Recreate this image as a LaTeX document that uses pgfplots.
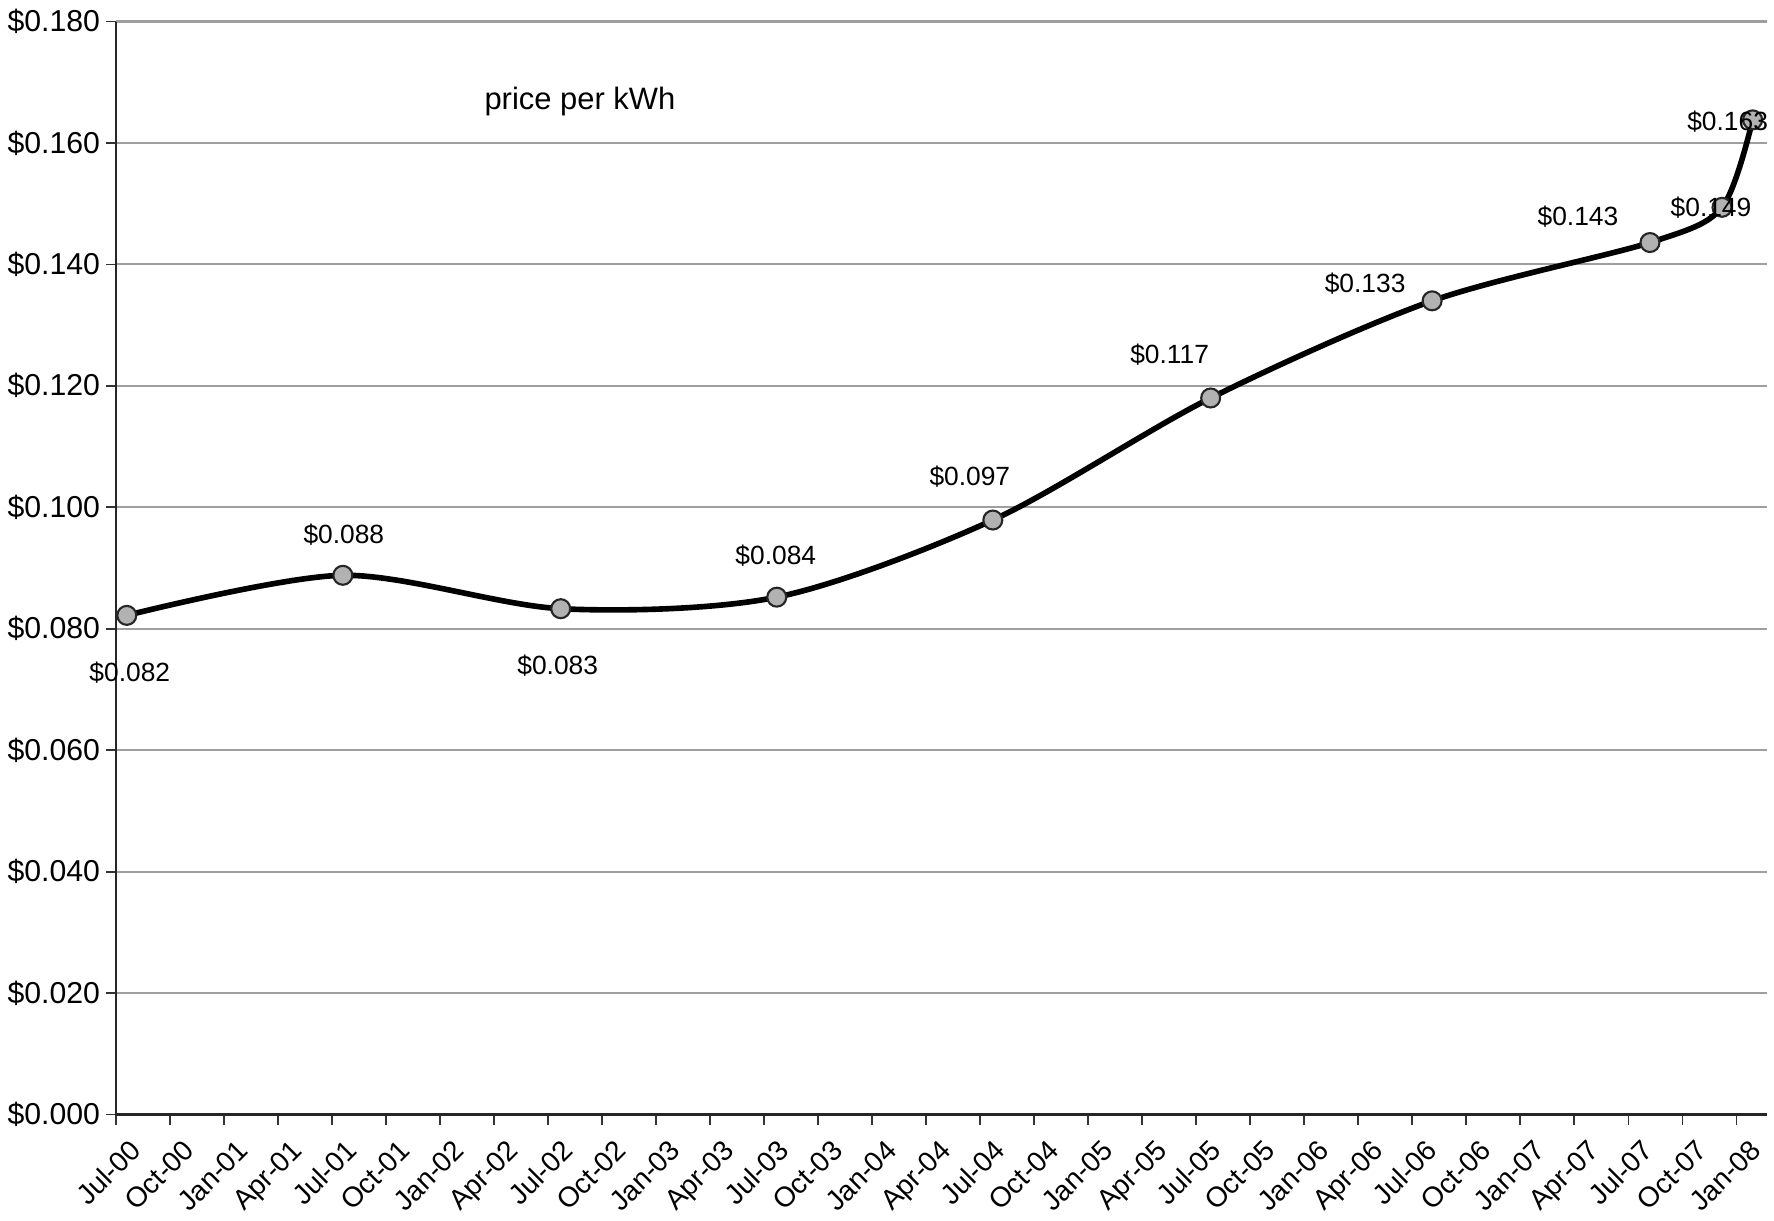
\documentclass[border=0pt]{standalone}
\usepackage{fontspec}
\setmainfont{Liberation Sans}
\usepackage{pgfplots}
\usepackage{pgfplotstable}
\pgfplotsset{compat=1.18}
\pgfplotstableread{
x y lab dx dy
0.6 0.0822 0.082 0.3 -5.7
12.6 0.0888 0.088 0.1 4.1
24.7 0.0833 0.083 -0.3 -5.7
36.7 0.0852 0.084 -0.1 4.2
48.7 0.0979 0.097 -2.3 4.3
60.8 0.1180 0.117 -4.1 4.3
73.1 0.1340 0.133 -6.7 1.7
85.2 0.1436 0.143 -7.2 2.6
89.2 0.1494 0.149 -1.1 0.0
90.9 0.1638 0.163 -2.5 -0.2
}\pricedata
\begin{document}
\begin{tikzpicture}
\begin{axis}[name=ax,
  scale only axis, width=16.51cm, height=10.93cm,
  xmin=0, xmax=91.7, ymin=0, ymax=0.18,
  axis x line*=bottom, axis y line*=left,
  axis line style={-, black!85, line width=0.6pt},
  xtick={0,3,...,90},
  xticklabels={Jul-00,Oct-00,Jan-01,Apr-01,Jul-01,Oct-01,Jan-02,Apr-02,Jul-02,Oct-02,Jan-03,Apr-03,Jul-03,Oct-03,Jan-04,Apr-04,Jul-04,Oct-04,Jan-05,Apr-05,Jul-05,Oct-05,Jan-06,Apr-06,Jul-06,Oct-06,Jan-07,Apr-07,Jul-07,Oct-07,Jan-08},
  ytick={0,0.02,0.04,0.06,0.08,0.1,0.12,0.14,0.16,0.18},
  yticklabels={\$0.000,\$0.020,\$0.040,\$0.060,\$0.080,\$0.100,\$0.120,\$0.140,\$0.160,\$0.180},
  ymajorgrids, grid style={gray!75, line width=0.6pt},
  tick align=outside, major tick length=1mm, tick style={black!80, line width=0.5pt},
  xticklabel style={rotate=45, anchor=north east, font=\fontsize{8}{9}\selectfont, inner sep=1pt, yshift=-1.4mm, xshift=0.3mm},
  yticklabel style={font=\fontsize{8.6}{10}\selectfont, inner sep=1.5pt},
  clip=false,
]
\addplot[black, line width=1.6pt, smooth, tension=0.5,
  mark=*, mark size=2.7pt, mark options={fill=gray!60, draw=black!85, line width=0.6pt},
  nodes near coords={\$\pgfplotspointmeta},
  point meta=explicit symbolic,
  visualization depends on={\thisrow{dx} \as \mydx},
  visualization depends on={\thisrow{dy} \as \mydy},
  every node near coord/.append style={anchor=center, xshift=\mydx mm, yshift=\mydy mm, font=\fontsize{7.5}{8}\selectfont, black}
] table[x=x, y=y, meta=lab] {\pricedata};
\node[font=\fontsize{8.8}{10}\selectfont] at (rel axis cs:0.281,0.927) {price per kWh};
\end{axis}
\pgfresetboundingbox
\path ([xshift=-1.16cm,yshift=-1.055cm]ax.south west) rectangle ([xshift=0.07cm,yshift=0.215cm]ax.north east);
\end{tikzpicture}
\end{document}
